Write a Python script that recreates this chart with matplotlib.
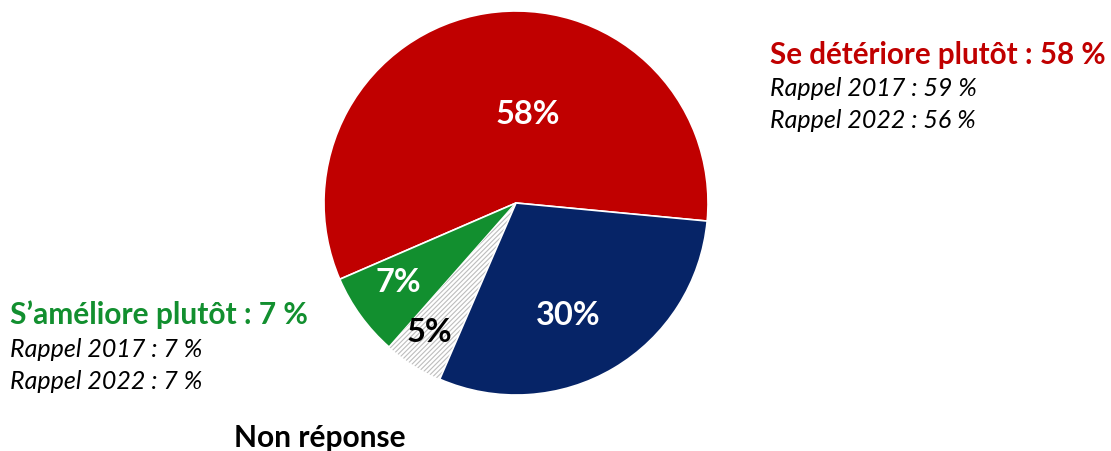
import matplotlib.pyplot as plt

plt.rcParams['font.family'] = ['Lato', 'DejaVu Sans']
plt.rcParams['hatch.linewidth'] = 0.8

# slices, counter-clockwise from the start angle
labels = ['Se détériore plutôt', "S’améliore plutôt", 'Non réponse', 'Se maintient']
values = [58, 7, 5, 30]
pct_text = ['58%', '7%', '5%', '30%']
colors = ['#c00000', '#128f2f', 'white', '#062467']
text_colors = ['white', 'white', 'black', 'white']

rappel_deteriore = ['Rappel 2017 : 59 %', 'Rappel 2022 : 56 %']
rappel_ameliore = ['Rappel 2017 : 7 %', 'Rappel 2022 : 7 %']

W, H = 1111, 452
fig = plt.figure(figsize=(W / 100, H / 100), dpi=100)

# pie centre (516, 204) px, radius 192 px
cx, cy, r = 516, 204, 192
ax = fig.add_axes([(cx - r) / W, (H - cy - r) / H, 2 * r / W, 2 * r / H])

wedges, _ = ax.pie(values, colors=colors, startangle=-5.4, counterclock=True,
                   radius=1, wedgeprops=dict(linewidth=1.2, edgecolor='white'))
wedges[2].set_hatch('///////')
wedges[2].set_edgecolor('#bdbdbd')
wedges[2].set_linewidth(0)
ax.set_xlim(-1, 1)
ax.set_ylim(-1, 1)
ax.set_aspect('equal')
ax.axis('off')

# percentage labels inside the slices
pct_pos = [(0.06, 0.465), (-0.615, -0.41), (-0.45, -0.67), (0.27, -0.58)]
for (x, y), t, c in zip(pct_pos, pct_text, text_colors):
    ax.text(x, y, t, color=c, fontsize=23.5, fontweight='bold', ha='center', va='center')

# side annotations
fig.text(770 / W, 1 - 55 / H, 'Se détériore plutôt : 58 %', color='#c00000',
         fontsize=21.3, fontweight='bold', va='center', ha='left')
for i, t in enumerate(rappel_deteriore):
    fig.text(770 / W, 1 - (89 + 32 * i) / H, t, fontsize=18, style='italic',
             va='center', ha='left')

fig.text(10 / W, 1 - 315 / H, "S’améliore plutôt : 7 %", color='#128f2f',
         fontsize=21.5, fontweight='bold', va='center', ha='left')
for i, t in enumerate(rappel_ameliore):
    fig.text(10 / W, 1 - (350 + 32 * i) / H, t, fontsize=18, style='italic',
             va='center', ha='left')

fig.text(320 / W, 1 - 438 / H, 'Non réponse', fontsize=21.5, fontweight='bold',
         va='center', ha='center')

fig.savefig('out.png', dpi=100)
